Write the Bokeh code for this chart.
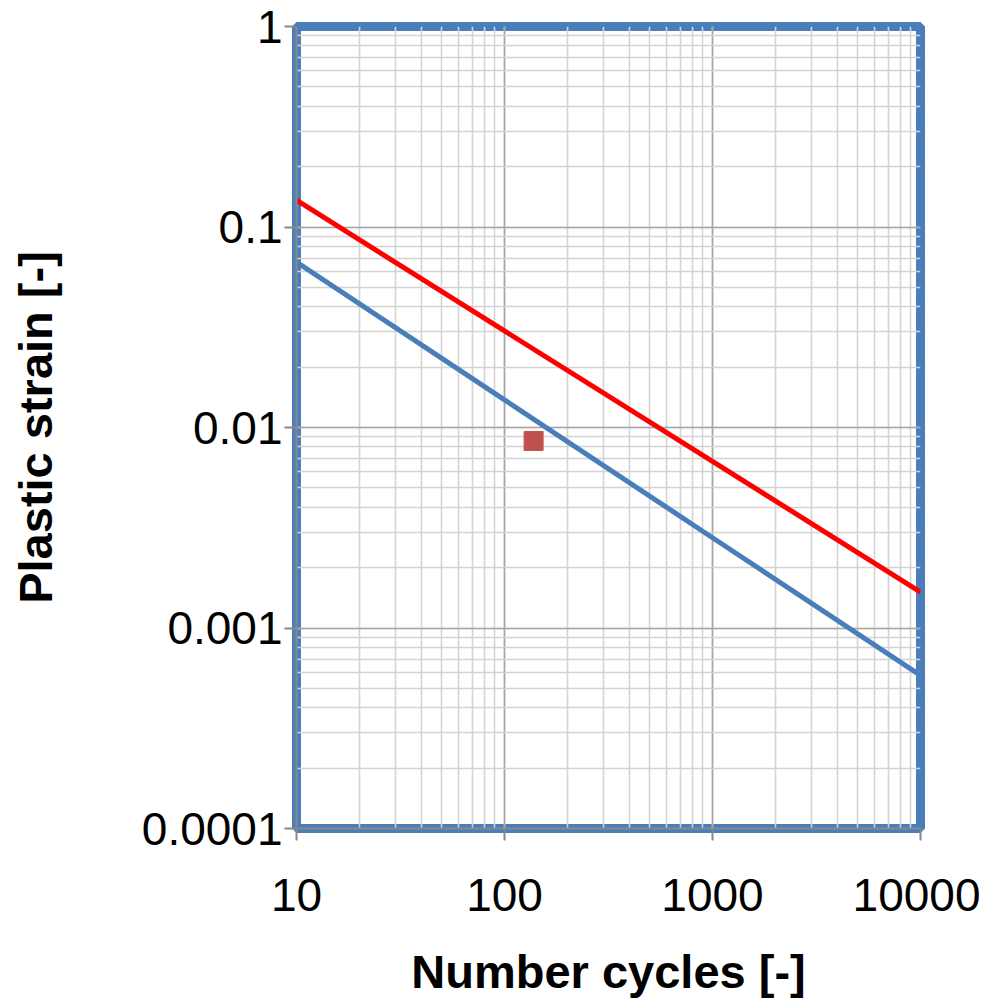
from bokeh.plotting import figure
from bokeh.models import Range1d, CustomJSTickFormatter
from bokeh.embed import file_html
from bokeh.resources import INLINE

# ---- data ----
cycles = [10, 100, 1000, 10000]
strain_red = [0.136, 0.0303, 0.00678, 0.00151]
strain_blue = [0.0669, 0.01374, 0.00282, 0.00058]
point_cycles = [138]
point_strain = [0.00857]
x_tick_labels = ["10", "100", "1000", "10000"]
y_tick_labels = ["0.0001", "0.001", "0.01", "0.1", "1"]

FONT = "Liberation Sans"

p = figure(
    width=980, height=1000,
    x_axis_type="log", y_axis_type="log",
    x_range=Range1d(10, 10000), y_range=Range1d(1e-4, 1),
    output_backend="svg", toolbar_location=None,
    min_border_left=296, min_border_top=26, min_border_right=60, min_border_bottom=167,
    background_fill_color="white", border_fill_color="white",
)

p.outline_line_color = "#4a7ebb"
p.outline_line_width = 9
p.outline_line_alpha = 1.0

# grid
for g in (p.xgrid, p.ygrid):
    g.grid_line_color = "#a6a6a6"
    g.grid_line_width = 1.6
    g.minor_grid_line_color = "#d3d3d3"
    g.minor_grid_line_width = 1.6

# axes
for ax in (p.xaxis, p.yaxis):
    ax.axis_line_color = "#888888"
    ax.axis_line_width = 2
    ax.major_tick_line_color = "#888888"
    ax.major_tick_line_width = 2
    ax.major_tick_out = 12
    ax.major_tick_in = 0
    ax.minor_tick_line_color = None
    ax.major_label_text_font = FONT
    ax.major_label_text_font_size = "46px"
    ax.major_label_text_color = "black"
    ax.axis_label_text_font = FONT
    ax.axis_label_text_font_size = "47px"
    ax.axis_label_text_font_style = "bold"
    ax.axis_label_text_color = "black"

p.xaxis.axis_label = "Number cycles [-]"
p.yaxis.axis_label = "Plastic strain [-]"
p.xaxis.major_label_standoff = 38
p.yaxis.major_label_standoff = 2
p.xaxis.axis_label_standoff = 31
p.yaxis.axis_label_standoff = 77

p.xaxis.formatter = CustomJSTickFormatter(
    args=dict(labels=x_tick_labels, start=10),
    code="""
const k = Math.round(Math.log10(tick) - Math.log10(start));
return (k >= 0 && k < labels.length) ? labels[k] : "";
""")
p.yaxis.formatter = CustomJSTickFormatter(
    args=dict(labels=y_tick_labels, start=1e-4),
    code="""
const k = Math.round(Math.log10(tick) - Math.log10(start));
return (k >= 0 && k < labels.length) ? labels[k] : "";
""")

# series
p.line(cycles, strain_red, line_color="#ff0000", line_width=5)
p.line(cycles, strain_blue, line_color="#4a7ebb", line_width=5)
p.scatter(point_cycles, point_strain, marker="square", size=19,
          fill_color="#c0504d", line_color="#c0504d")

open("out.html", "w").write(file_html(p, INLINE))
